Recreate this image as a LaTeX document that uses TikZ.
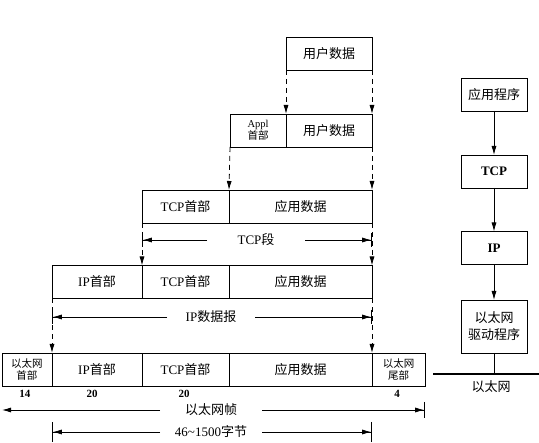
\documentclass[tikz,border=0pt]{standalone}
\usepackage{fontspec}
\setmainfont{Liberation Serif}
\newfontfamily\zhfont{Noto Sans CJK SC}
\newcommand{\zh}[1]{{\zhfont #1}}
\usetikzlibrary{arrows.meta}

\begin{document}
\begin{tikzpicture}[x=1pt,y=-1pt,
  box/.style={draw, line width=0.9pt, minimum height=33pt, inner sep=0pt, outer sep=0pt,
    font=\fontsize{13}{15}\selectfont, align=center},
  small/.style={font=\fontsize{10.5}{12}\selectfont},
  down/.style={dash pattern=on 5pt off 4pt, line width=0.8pt, -{Latex[length=9pt,width=5pt]}},
  flow/.style={line width=0.8pt, -{Latex[length=9pt,width=5pt]}},
  dim/.style={line width=0.8pt, -{Latex[length=9pt,width=5pt] Bar[width=14pt]}},
  lbl/.style={font=\fontsize{13}{15}\selectfont, inner sep=0pt, outer sep=0pt},
  num/.style={font=\fontsize{11}{13}\selectfont\bfseries, inner sep=0pt}
]
\useasboundingbox (0,0) rectangle (539,443);

% user data
\node[box, minimum width=86pt] (ud1) at (329,53.5) {\zh{用户数据}};

% appl header + user data
\node[box, small, minimum width=56pt] (appl) at (258,130.5) {Appl\\\zh{首部}};
\node[box, minimum width=86pt] (ud2) at (329,130.5) {\zh{用户数据}};

% TCP segment
\node[box, minimum width=87pt] (tcph3) at (185.5,206.5) {TCP\zh{首部}};
\node[box, minimum width=143pt] (app3) at (300.5,206.5) {\zh{应用数据}};

% IP datagram
\node[box, minimum width=90pt] (iph4) at (97,282) {IP\zh{首部}};
\node[box, minimum width=87pt] (tcph4) at (185.5,282) {TCP\zh{首部}};
\node[box, minimum width=143pt] (app4) at (300.5,282) {\zh{应用数据}};

% Ethernet frame
\node[box, small, minimum width=50pt] (ethh) at (27,369.5) {\zh{以太网}\\\zh{首部}};
\node[box, minimum width=90pt] (iph5) at (97,369.5) {IP\zh{首部}};
\node[box, minimum width=87pt] (tcph5) at (185.5,369.5) {TCP\zh{首部}};
\node[box, minimum width=143pt] (app5) at (300.5,369.5) {\zh{应用数据}};
\node[box, small, minimum width=53pt] (etht) at (398.5,369.5) {\zh{以太网}\\\zh{尾部}};

% sizes
\node[num] (n14) at (25,394) {14};
\node[num] (n20a) at (92,394) {20};
\node[num] (n20b) at (184,394) {20};
\node[num] (n4) at (397,394) {4};

% dashed arrows
\draw[down] (ud1.south west) -- (ud2.north west);
\draw[down] (ud1.south east) -- (ud2.north east);
\draw[down] (appl.south west) -- (app3.north west);
\draw[down] (ud2.south east) -- (app3.north east);
\draw[down] (tcph3.south west) -- (tcph4.north west);
\draw[down] (app3.south east) -- (app4.north east);
\draw[down] (iph4.south west) -- (iph5.north west);
\draw[down] (app4.south east) -- (etht.north west);

% lengths
\node[lbl, minimum width=98pt] (tcpseg) at (256,240) {TCP\zh{段}};
\draw[dim] (tcpseg) -- (tcph3.south west |- tcpseg);
\draw[dim] (tcpseg) -- (app3.south east |- tcpseg);

\node[lbl, minimum width=88pt] (ipdg) at (211,317) {IP\zh{数据报}};
\draw[dim] (ipdg) -- (iph4.south west |- ipdg);
\draw[dim] (ipdg) -- (app4.south east |- ipdg);

\node[lbl, minimum width=102pt] (frame) at (211,410) {\zh{以太网帧}};
\draw[flow] (frame) -- (ethh.south west |- frame);
\draw[dim, -{Latex[length=9pt,width=5pt] Bar[width=16pt]}] (frame) -- (etht.south east |- frame);

\node[lbl, minimum width=102pt] (bytes) at (211,432) {46\textasciitilde1500\zh{字节}};
\draw[dim, -{Latex[length=9pt,width=5pt] Bar[width=20pt]}] (bytes) -- (iph5.south west |- bytes);
\draw[dim, -{Latex[length=9pt,width=5pt] Bar[width=20pt]}] (bytes) -- (app5.south east |- bytes);

% protocol stack
\node[box, minimum width=66pt] (appprog) at (494,94.5) {\zh{应用程序}};
\node[box, minimum width=66pt, font=\fontsize{13}{15}\selectfont\bfseries] (tcpR) at (494,171.5) {TCP};
\node[box, minimum width=66pt, font=\fontsize{13}{15}\selectfont\bfseries] (ipR) at (494,248) {IP};
\node[box, minimum width=66pt, minimum height=53pt, font=\fontsize{13}{17}\selectfont] (drv) at (494,326.5) {\zh{以太网}\\\zh{驱动程序}};
\draw[flow] (appprog) -- (tcpR);
\draw[flow] (tcpR) -- (ipR);
\draw[flow] (ipR) -- (drv);

\coordinate (ethL) at (433,374);
\coordinate (ethR) at (539,374);
\draw[line width=2.5pt] (ethL) -- (ethR);
\draw[line width=0.8pt] (drv) -- (drv.south |- ethL);
\node[lbl] (ethlbl) at (491,387) {\zh{以太网}};

\end{tikzpicture}
\end{document}
